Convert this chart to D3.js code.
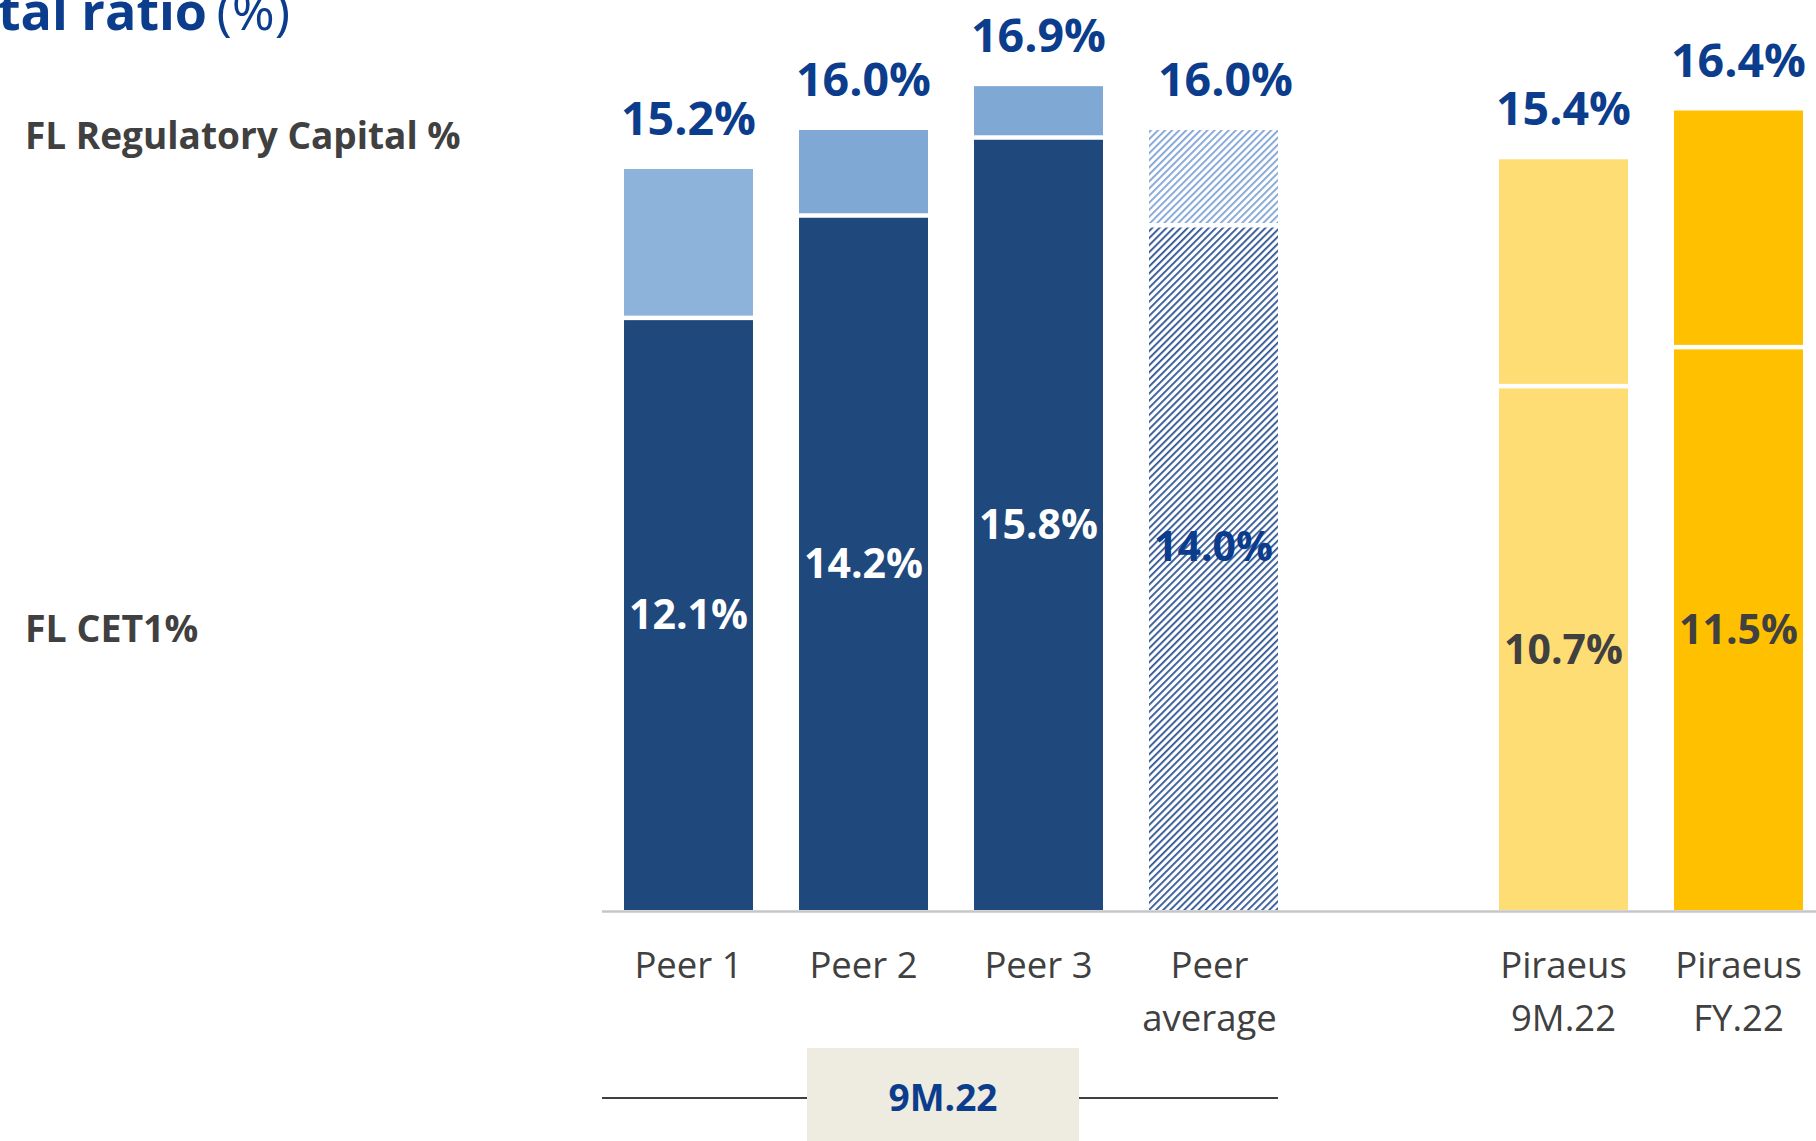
<!DOCTYPE html>
<html>
<head>
<meta charset="utf-8">
<script src="https://cdn.jsdelivr.net/npm/d3@7/dist/d3.min.js"></script>
<style>
  html, body { margin: 0; padding: 0; background: #ffffff; }
  svg { display: block; font-family: "Open Sans", "Noto Sans", sans-serif; }
</style>
</head>
<body>
<svg id="chart" width="1816" height="1141"></svg>
<script>
// ---- data ----
const categories = ["Peer 1", "Peer 2", "Peer 3", "Peer average", "", "Piraeus 9M.22", "Piraeus FY.22"];
const categoryLines = [["Peer 1"], ["Peer 2"], ["Peer 3"], ["Peer", "average"], [], ["Piraeus", "9M.22"], ["Piraeus", "FY.22"]];
const cet1Values = [12.1, 14.2, 15.8, 14.0, null, 10.7, 11.5];
const regCapitalValues = [15.2, 16.0, 16.9, 16.0, null, 15.4, 16.4];
const cet1Labels = ["12.1%", "14.2%", "15.8%", "14.0%", "", "10.7%", "11.5%"];
const regCapitalLabels = ["15.2%", "16.0%", "16.9%", "16.0%", "", "15.4%", "16.4%"];
const seriesNames = ["FL Regulatory Capital %", "FL CET1%"];
const groupLabel = "9M.22";
const titleBold = "tal ratio";
const titleRegular = " (%)";

// ---- styles ----
const blueText = "#0b3d8c";
const greyText = "#404040";
const styles = [
  { bottom: "#1f497d", top: "#8db3da", inner: "#ffffff", shift: 0, topShift: 0 },
  { bottom: "#1f497d", top: "#80a8d4", inner: "#ffffff", shift: 0, topShift: 0 },
  { bottom: "#1f497d", top: "#80a8d4", inner: "#ffffff", shift: 0, topShift: 0 },
  { bottom: "url(#hatchDark)", top: "url(#hatchLight)", inner: blueText, shift: -22, topShift: 12 },
  null,
  { bottom: "#ffdd75", top: "#ffdd75", inner: greyText, shift: 0, topShift: 0 },
  { bottom: "#ffc000", top: "#ffc000", inner: greyText, shift: 0, topShift: 0 }
];

const svg = d3.select("#chart");
const defs = svg.append("defs");
function hatch(id, color) {
  const p = defs.append("pattern")
    .attr("id", id).attr("patternUnits", "userSpaceOnUse")
    .attr("width", 5).attr("height", 5)
    .attr("patternTransform", "rotate(45)");
  p.append("rect").attr("width", 5).attr("height", 5).attr("fill", "#ffffff");
  p.append("rect").attr("x", 0).attr("y", 0).attr("width", 1.8).attr("height", 5).attr("fill", color);
}
hatch("hatchDark", "#2f5597");
hatch("hatchLight", "#7fa3d6");

const baseY = 910;
const y = d3.scaleLinear().domain([0, 18.667]).range([baseY, 0]);
const x = d3.scaleBand().domain(categories).range([601, 1826]).paddingInner(0.263).paddingOuter(0.1315);
const gap = 4.5;

const data = categories.map((c, i) => ({ c, i, cet1: cet1Values[i], reg: regCapitalValues[i] })).filter(d => d.cet1 !== null);

// bars
const g = svg.append("g");
g.selectAll("rect.bottom").data(data).enter().append("rect")
  .attr("x", d => x(d.c)).attr("width", x.bandwidth())
  .attr("y", d => y(d.cet1)).attr("height", d => baseY - y(d.cet1))
  .attr("fill", d => styles[d.i].bottom);
g.selectAll("rect.top").data(data).enter().append("rect")
  .attr("x", d => x(d.c)).attr("width", x.bandwidth())
  .attr("y", d => y(d.reg)).attr("height", d => y(d.cet1) - y(d.reg) - gap)
  .attr("fill", d => styles[d.i].top);

// baseline
svg.append("line").attr("x1", 602).attr("x2", 1816).attr("y1", baseY + 1.5).attr("y2", baseY + 1.5)
  .attr("stroke", "#c6c6c6").attr("stroke-width", 2.5);

// top labels
g.selectAll("text.top").data(data).enter().append("text")
  .attr("x", d => x(d.c) + x.bandwidth() / 2 + styles[d.i].topShift).attr("y", d => y(d.reg) - 34)
  .attr("text-anchor", "middle").attr("font-size", 46.5).attr("font-weight", 700)
  .attr("fill", blueText).text(d => regCapitalLabels[d.i]);

// inner labels
g.selectAll("text.inner").data(data).enter().append("text")
  .attr("x", d => x(d.c) + x.bandwidth() / 2).attr("y", d => (y(d.cet1) + baseY) / 2 + styles[d.i].shift)
  .attr("dy", "0.35em")
  .attr("text-anchor", "middle").attr("font-size", 41).attr("font-weight", 700)
  .attr("fill", d => styles[d.i].inner).text(d => cet1Labels[d.i]);

// category labels
categories.forEach((c, i) => {
  const lines = categoryLines[i];
  lines.forEach((t, k) => {
    svg.append("text")
      .attr("x", x(c) + x.bandwidth() / 2 - (lines.length > 1 && i === 3 ? 4 : 0)).attr("y", 978 + k * 53)
      .attr("text-anchor", "middle").attr("font-size", 36.5).attr("fill", greyText).text(t);
  });
});

// group bracket
const gx0 = 602, gx1 = x("Peer average") + x.bandwidth();
const boxX0 = 807, boxX1 = 1079;
svg.append("line").attr("x1", gx0).attr("x2", boxX0).attr("y1", 1098).attr("y2", 1098).attr("stroke", greyText).attr("stroke-width", 2);
svg.append("line").attr("x1", boxX1).attr("x2", gx1).attr("y1", 1098).attr("y2", 1098).attr("stroke", greyText).attr("stroke-width", 2);
svg.append("rect").attr("x", boxX0).attr("y", 1048).attr("width", boxX1 - boxX0).attr("height", 100).attr("fill", "#eeebe0");
svg.append("text").attr("x", (boxX0 + boxX1) / 2).attr("y", 1111).attr("text-anchor", "middle")
  .attr("font-size", 37).attr("font-weight", 700).attr("fill", blueText).text(groupLabel);

// series labels on the left
svg.append("text").attr("x", 25).attr("y", 149).attr("font-size", 37).attr("font-weight", 700)
  .attr("fill", greyText).text(seriesNames[0]);
svg.append("text").attr("x", 25).attr("y", 642).attr("font-size", 37.5).attr("font-weight", 700)
  .attr("fill", greyText).text(seriesNames[1]);

// title (cut off at top-left, as in the reference)
const title = svg.append("text").attr("x", -2).attr("y", 30).attr("font-size", 52).attr("fill", blueText);
title.append("tspan").attr("font-weight", 700).text(titleBold);
title.append("tspan").attr("font-weight", 400).attr("dx", -4).text(titleRegular);
</script>
</body>
</html>
